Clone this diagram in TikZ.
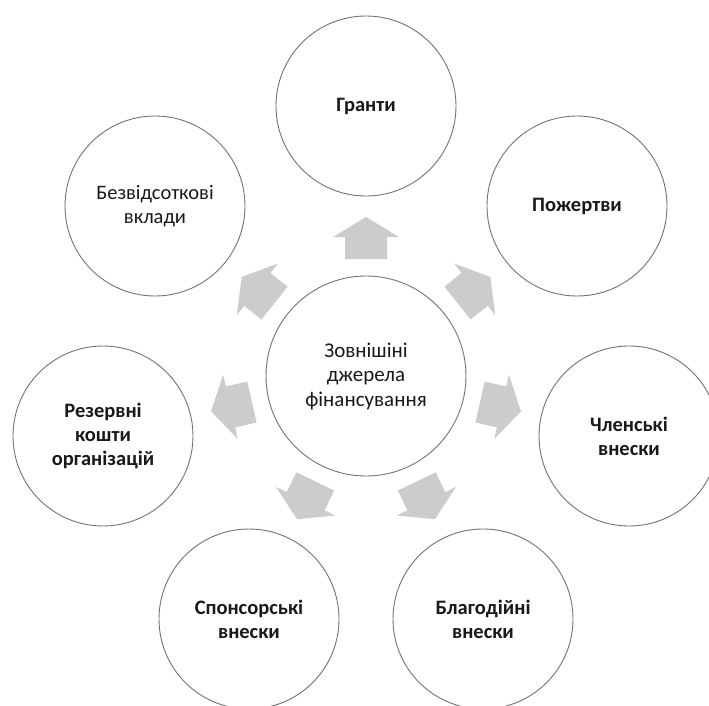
\documentclass[tikz,border=0pt]{standalone}
\usepackage{fontspec}
\setmainfont{Carlito}
\begin{document}
\begin{tikzpicture}[x=1pt,y=-1pt,
  ring/.style={circle, draw=black!55, line width=0.9pt, fill=white, inner sep=0pt, align=center, text=black!90},
  outer/.style={ring, minimum size=180pt, font=\fontsize{20.5}{24}\selectfont\bfseries},
  outerlight/.style={ring, minimum size=180pt, font=\fontsize{20.5}{24}\selectfont},
  hub/.style={ring, minimum size=200pt, font=\fontsize{21}{24.5}\selectfont},
  arrowfill/.style={fill=black!20, draw=none}]
\useasboundingbox (0,0) rectangle (709,706);
\node[hub] (c) at (366,376) {Зовнішіні\\джерела\\фінансування};
\node[outer] (n1) at (366,106) {Гранти};
\node[outer] (n2) at (577,206) {Пожертви};
\node[outer] (n3) at (629,436) {Членські\\внески};
\node[outer] (n4) at (483,619) {Благодійні\\внески};
\node[outer] (n5) at (249,619) {Спонсорські\\внески};
\node[outer] (n6) at (103,436) {Резервні\\кошти\\організацій};
\node[outerlight] (n7) at (155,206) {Безвідсоткові\\вклади};
\foreach \a in {90,38.571,-12.857,-64.286,-115.714,-167.143,141.429}{
  \fill[arrowfill, shift={(366,376)}, rotate=\a]
    (117,-21) -- (139,-21) -- (139,-33) -- (159,0) -- (139,33) -- (139,21) -- (117,21) -- cycle;
}
\end{tikzpicture}
\end{document}
